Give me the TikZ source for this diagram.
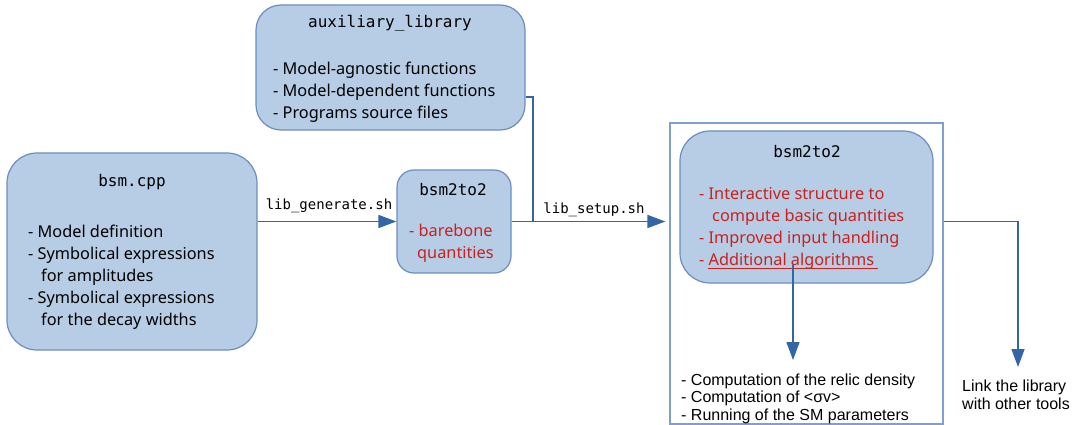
\documentclass[tikz,border=0pt]{standalone}
\usepackage{fontspec}
\setmainfont{Noto Sans}
\newfontfamily\codefont{DejaVu Sans Mono}
\newfontfamily\notefont{Liberation Sans}
\usetikzlibrary{arrows.meta}
\definecolor{boxfill}{HTML}{B7CCE5}
\definecolor{boxline}{HTML}{6C8EBF}
\definecolor{linkblue}{HTML}{3465A4}
\definecolor{newred}{HTML}{C9211E}
\definecolor{framecol}{HTML}{7F9FCF}
\tikzset{
  block/.style   = {draw=boxline, fill=boxfill, line width=1.2pt, inner sep=0pt},
  title/.style   = {font=\codefont\fontsize{16}{19}\selectfont, anchor=base, inner sep=0pt},
  items/.style   = {font=\fontsize{16.3}{22}\selectfont, align=left, anchor=north west, inner sep=0pt},
  script/.style  = {font=\codefont\fontsize{14}{17}\selectfont, anchor=base, inner sep=0pt},
  flow/.style    = {linkblue, line width=1.4pt},
  flowarr/.style = {flow, -{Triangle[length=18pt,width=13pt]}},
  note/.style    = {font=\notefont\fontsize{16}{17.5}\selectfont, align=left, anchor=north west, inner sep=0pt}
}
\newcommand{\hang}{\hspace*{13pt}}

\begin{document}
\begin{tikzpicture}[x=1pt,y=-1pt]
  \useasboundingbox (0,0) rectangle (1080,425);
  % boxes
  \node[block, rounded corners=30pt, minimum width=250pt, minimum height=197pt] (bsm) at (132,251.5) {};
  \node[block, rounded corners=25pt, minimum width=269pt, minimum height=125pt] (aux) at (390.5,67.5) {};
  \node[block, rounded corners=17pt, minimum width=114pt, minimum height=103pt] (small) at (454,221.5) {};
  \node[draw=framecol, line width=1.2pt, minimum width=273pt, minimum height=301pt] (frame) at (806.5,273.5) {};
  \node[block, rounded corners=30pt, minimum width=253pt, minimum height=152pt] (inner) at (806.5,207) {};
  % titles
  \node[title] (bsmtitle) at (132,187) {bsm.cpp};
  \node[title] (auxtitle) at (390,28) {auxiliary\_library};
  \node[title] (smalltitle) at (453,196) {bsm2to2};
  \node[title] (innertitle) at (807,158) {bsm2to2};
  % box contents
  \node[items] (bsmitems) at (28,224.6) {- Model definition\\
    - Symbolical expressions\\ \hang for amplitudes\\
    - Symbolical expressions\\ \hang for the decay widths};
  \node[items] (auxitems) at (273,61.6) {- Model-agnostic functions\\
    - Model-dependent functions\\ - Programs source files};
  \node[items, newred] (smallitems) at (409,223.6) {- barebone\\ \hspace*{8pt}quantities};
  \node[items, newred] (inneritems) at (699,187.4) {- Interactive structure to\\
    \hang compute basic quantities\\ - Improved input handling\\
    - Additional algorithms};
  \draw[newred, line width=1pt] (708,268) -- (878,268);
  % outputs
  \node[note] (notes) at (681,373.5) {- Computation of the relic density\\
    - Computation of <σv>\\ - Running of the SM parameters};
  \node[note] (link) at (962,379.5) {Link the library\\[0.5pt] with other tools};
  % connectors
  \coordinate (join) at (533,221.5);
  \coordinate (alg) at (793,265);
  \draw[flowarr] (small.west -| bsm.east) -- (small.west);
  \node[script] (gen) at (329,210) {lib\_generate.sh};
  \draw[flowarr, shorten >=4pt] (small.east) -- (small.east -| frame.west);
  \node[script] (setup) at (594,214) {lib\_setup.sh};
  \draw[flow] ([yshift=-29.5pt]aux.east) -| (join);
  \draw[flowarr, shorten >=13.5pt] (alg) -- (alg |- notes.north);
  \draw[flowarr, shorten >=12.5pt] (small.east -| frame.east) -| ([xshift=2pt]link.north);
\end{tikzpicture}
\end{document}
